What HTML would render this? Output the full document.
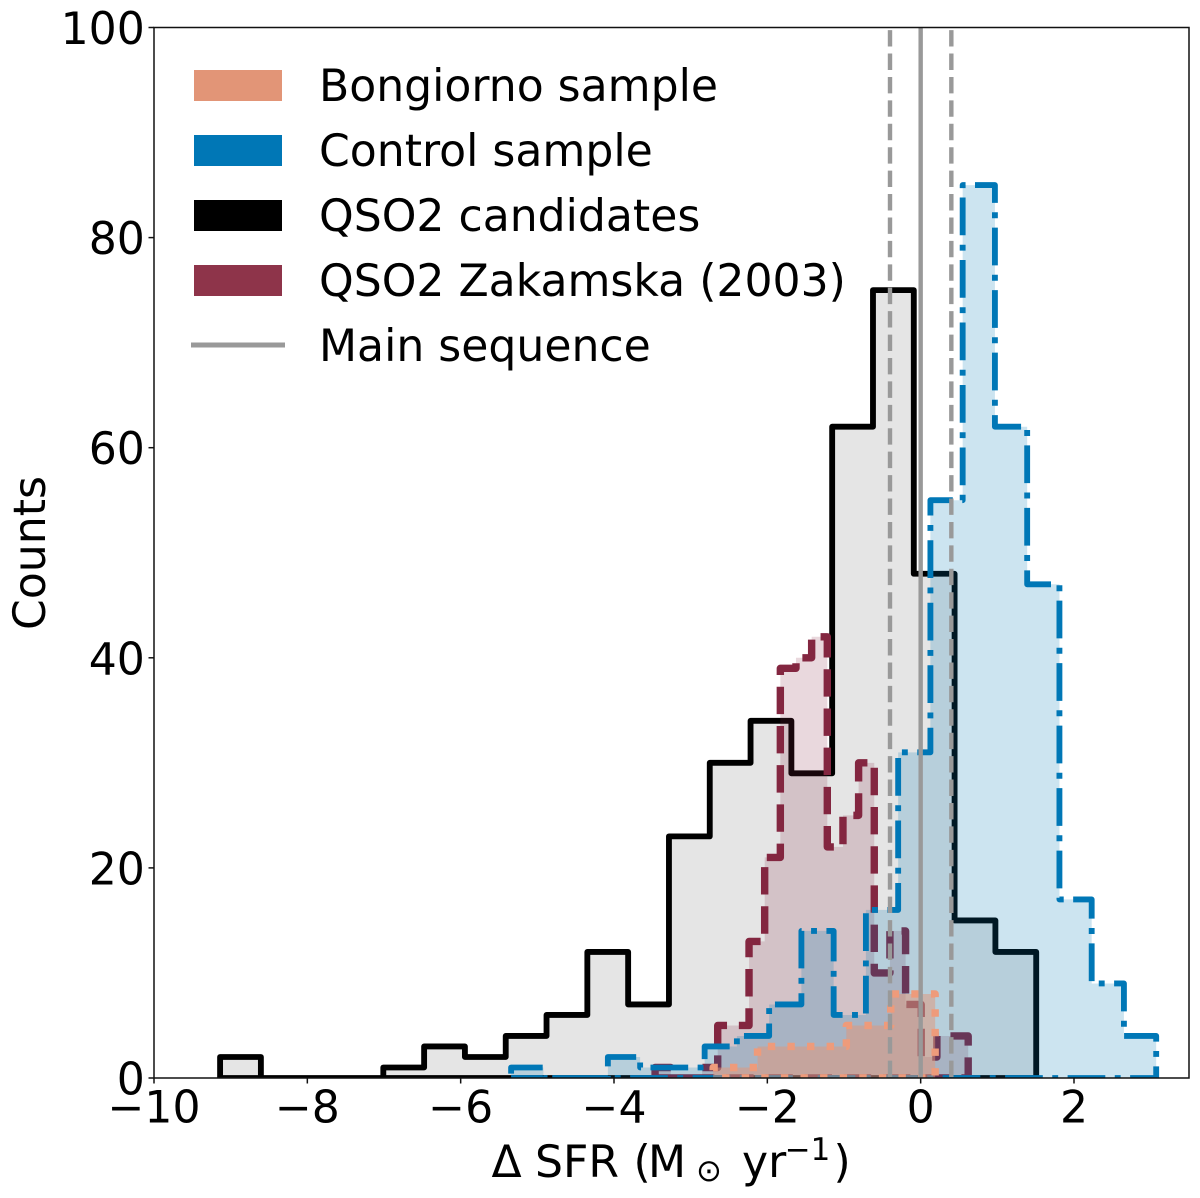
<!DOCTYPE html>
<html lang="en">
<head>
<meta charset="utf-8">
<title>Delta SFR histogram</title>
<style>
html,body{margin:0;padding:0;background:#fff;}
svg{display:block;}
text{font-family:"DejaVu Sans","Liberation Sans",sans-serif;fill:#000;}
</style>
</head>
<body>
<svg id="chart" xmlns="http://www.w3.org/2000/svg" width="1200" height="1198" viewBox="0 0 1200 1198">
  <defs>
    <clipPath id="plot-clip"><rect x="154" y="27.5" width="1035" height="1050.5"></rect></clipPath>
  </defs>
  <rect x="0" y="0" width="1200" height="1198" fill="#fff"></rect>
  <g id="marks" clip-path="url(#plot-clip)"></g>
  <g id="refs" clip-path="url(#plot-clip)"></g>
  <g id="frame"></g>
  <g id="x-ticks"></g>
  <g id="y-ticks"></g>

  <text font-size="44.1" y="1177"><tspan x="491.5">Δ</tspan><tspan x="535">SFR</tspan><tspan x="633.5">(</tspan><tspan x="648">M</tspan><tspan x="696" y="1181" font-size="30.9">⊙</tspan><tspan x="742" y="1177">yr</tspan><tspan x="784.7" y="1160" font-size="30.9">−1</tspan><tspan x="833.5" y="1177">)</tspan></text>
  <text font-size="44.1" text-anchor="middle" transform="translate(45,553) rotate(-90)">Counts</text>

  <g>
    <g>
      <rect x="194" y="70" width="88" height="31" fill="#E29577"></rect>
      <text x="319" y="101" font-size="44.1">Bongiorno sample</text>
    </g>
    <g>
      <rect x="194" y="135" width="88" height="31" fill="#0077B6"></rect>
      <text x="319" y="166" font-size="44.1">Control sample</text>
    </g>
    <g>
      <rect x="194" y="200" width="88" height="31" fill="#000"></rect>
      <text x="319" y="231" font-size="44.1">QSO2 candidates</text>
    </g>
    <g>
      <rect x="194" y="265" width="88" height="31" fill="#8E344A"></rect>
      <text x="319" y="296" font-size="44.1">QSO2 Zakamska (2003)</text>
    </g>
    <g>
      <line x1="191" x2="285" y1="345" y2="345" stroke="#999" stroke-width="5"></line>
      <text x="319" y="361" font-size="44.1">Main sequence</text>
    </g>
  </g>
</svg>
<script>
// Axis limits
const xDomain = [-10, 3.5];
const yDomain = [0, 100];

// Tick labels
const xTickValues = [-10, -8, -6, -4, -2, 0, 2];
const xTickLabels = ["−10", "−8", "−6", "−4", "−2", "0", "2"];
const yTickValues = [0, 20, 40, 60, 80, 100];
const yTickLabels = ["0", "20", "40", "60", "80", "100"];

// Histogram ranges (delta SFR) and counts per bin (20 bins each)
const candidatesRange = [-9.138, 1.507];
const candidatesCounts = [2, 0, 0, 0, 1, 3, 2, 4, 6, 12, 7, 23, 30, 34, 29, 62, 75, 48, 15, 12];

const zakamskaRange = [-3.464, 0.62];
const zakamskaCounts = [1, 0, 0, 1, 5, 5, 13, 21, 39, 40, 42, 22, 25, 30, 10, 14, 7, 2, 4, 4];

const controlRange = [-5.342, 3.072];
const controlCounts = [1, 0, 0, 2, 1, 1, 3, 4, 7, 14, 6, 16, 31, 55, 85, 62, 47, 17, 9, 4];

const bongiornoRange = [-2.707, 0.189];
const bongiornoCounts = [1, 1, 1, 1, 3, 3, 3, 3, 3, 3, 3, 3, 5, 5, 5, 5, 8, 8, 8, 8];

// Main sequence reference lines (delta SFR)
const mainSequenceCentre = 0;
const mainSequenceBand = [-0.4, 0.4];

const SVG_NS = "http://www.w3.org/2000/svg";
const plot = { left: 154, right: 1189, top: 27.5, bottom: 1078 };

function xScale(v) {
  return plot.left + (v - xDomain[0]) / (xDomain[1] - xDomain[0]) * (plot.right - plot.left);
}
function yScale(v) {
  return plot.bottom - (v - yDomain[0]) / (yDomain[1] - yDomain[0]) * (plot.bottom - plot.top);
}
function stepPath(range, counts) {
  const w = (range[1] - range[0]) / counts.length;
  let d = "M" + xScale(range[0]).toFixed(2) + " " + yScale(0).toFixed(2);
  counts.forEach(function (c, i) {
    const x0 = xScale(range[0] + i * w).toFixed(2);
    const x1 = xScale(range[0] + (i + 1) * w).toFixed(2);
    const y = yScale(c).toFixed(2);
    d += "L" + x0 + " " + y + "L" + x1 + " " + y;
  });
  d += "L" + xScale(range[1]).toFixed(2) + " " + yScale(0).toFixed(2) + "Z";
  return d;
}
function drawHistogram(name, range, counts, fill, fillOpacity, stroke, strokeWidth, dash, dashOffset) {
  const g = document.getElementById("marks");
  const area = document.createElementNS(SVG_NS, "path");
  area.setAttribute("d", stepPath(range, counts));
  area.setAttribute("fill", fill);
  area.setAttribute("fill-opacity", fillOpacity);
  area.setAttribute("stroke", "none");
  
  
  g.appendChild(area);
  const line = document.createElementNS(SVG_NS, "path");
  line.setAttribute("d", stepPath(range, counts));
  line.setAttribute("fill", "none");
  line.setAttribute("stroke", stroke);
  line.setAttribute("stroke-width", strokeWidth);
  line.setAttribute("stroke-linejoin", "round");
  line.setAttribute("stroke-linecap", "butt");
  if (dash) {
    line.setAttribute("stroke-dasharray", dash);
    line.setAttribute("stroke-dashoffset", dashOffset);
  }
  
  
  g.appendChild(line);
}

drawHistogram("qso2-candidates-histogram", candidatesRange, candidatesCounts, "#000", 0.1, "#000", 5.85, null, 0);
drawHistogram("qso2-zakamska-histogram", zakamskaRange, zakamskaCounts, "#832640", 0.18, "#832640", 7.4, "27.4 11.8", -0.5);
drawHistogram("control-sample-histogram", controlRange, controlCounts, "#0077B6", 0.2, "#0077B6", 5.85, "37.7 9.45 5.9 9.45", -4.4);
drawHistogram("bongiorno-sample-histogram", bongiornoRange, bongiornoCounts, "#E29577", 0.5, "#EE9B7B", 7.4, "7.4 12.2", -7.8);

// Reference lines
const refs = document.getElementById("refs");
const centreLine = document.createElementNS(SVG_NS, "line");
centreLine.setAttribute("x1", xScale(mainSequenceCentre));
centreLine.setAttribute("x2", xScale(mainSequenceCentre));
centreLine.setAttribute("y1", plot.bottom);
centreLine.setAttribute("y2", plot.top);
centreLine.setAttribute("stroke", "#999");
centreLine.setAttribute("stroke-width", "4.4");


refs.appendChild(centreLine);
mainSequenceBand.forEach(function (v) {
  const l = document.createElementNS(SVG_NS, "line");
  l.setAttribute("x1", xScale(v));
  l.setAttribute("x2", xScale(v));
  l.setAttribute("y1", plot.bottom - 1);
  l.setAttribute("y2", plot.top);
  l.setAttribute("stroke", "#999");
  l.setAttribute("stroke-width", "4.4");
  l.setAttribute("stroke-dasharray", "16.4 7.02");
  
  
  refs.appendChild(l);
});

// Frame
const frame = document.getElementById("frame");
const border = document.createElementNS(SVG_NS, "rect");
border.setAttribute("x", plot.left);
border.setAttribute("y", plot.top);
border.setAttribute("width", plot.right - plot.left);
border.setAttribute("height", plot.bottom - plot.top);
border.setAttribute("fill", "none");
border.setAttribute("stroke", "#111");
border.setAttribute("stroke-width", "1.5");


frame.appendChild(border);

// X ticks
const xGroup = document.getElementById("x-ticks");
xTickValues.forEach(function (v, i) {
  const t = document.createElementNS(SVG_NS, "line");
  t.setAttribute("x1", xScale(v));
  t.setAttribute("x2", xScale(v));
  t.setAttribute("y1", plot.bottom);
  t.setAttribute("y2", plot.bottom + 5.5);
  t.setAttribute("stroke", "#111");
  t.setAttribute("stroke-width", "1.5");
  
  
  xGroup.appendChild(t);
  const lab = document.createElementNS(SVG_NS, "text");
  lab.setAttribute("x", xScale(v));
  lab.setAttribute("y", 1122.5);
  lab.setAttribute("font-size", "44.1");
  lab.setAttribute("text-anchor", "middle");
  
  
  lab.textContent = xTickLabels[i];
  xGroup.appendChild(lab);
});

// Y ticks
const yGroup = document.getElementById("y-ticks");
yTickValues.forEach(function (v, i) {
  const t = document.createElementNS(SVG_NS, "line");
  t.setAttribute("x1", plot.left - 5.5);
  t.setAttribute("x2", plot.left);
  t.setAttribute("y1", yScale(v));
  t.setAttribute("y2", yScale(v));
  t.setAttribute("stroke", "#111");
  t.setAttribute("stroke-width", "1.5");
  
  
  yGroup.appendChild(t);
  const lab = document.createElementNS(SVG_NS, "text");
  lab.setAttribute("x", 144.8);
  lab.setAttribute("y", yScale(v) + 16.5);
  lab.setAttribute("font-size", "44.1");
  lab.setAttribute("text-anchor", "end");
  
  
  lab.textContent = yTickLabels[i];
  yGroup.appendChild(lab);
});
</script>
</body>
</html>
